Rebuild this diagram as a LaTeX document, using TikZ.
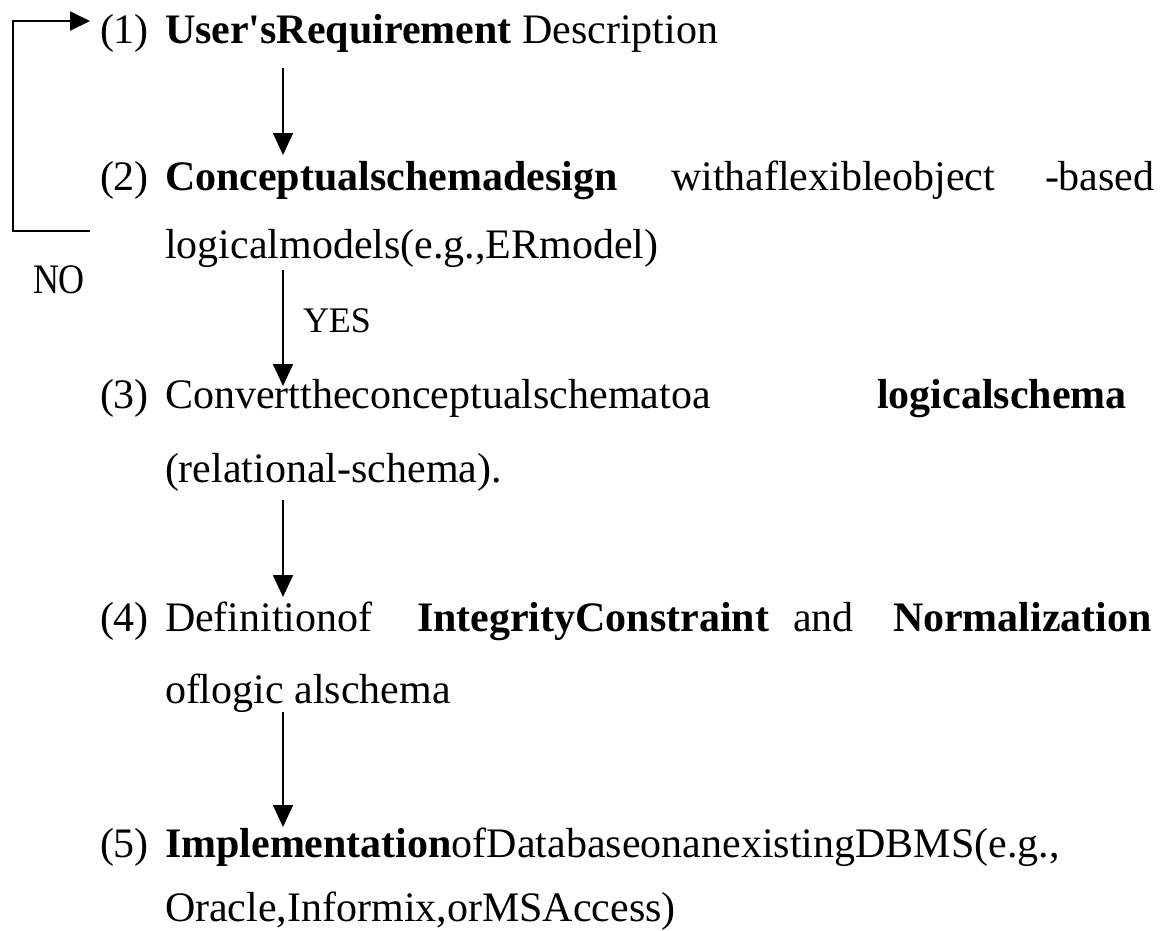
\documentclass[tikz,border=0pt]{standalone}
\usepackage{fontspec}
\setmainfont{Liberation Serif}
\usetikzlibrary{arrows.meta}

\tikzset{
  txt/.style={anchor=base west, inner sep=0pt, outer sep=0pt,
              font=\fontsize{42}{50}\selectfont},
  txtr/.style={txt, anchor=base east},
  lbl/.style={anchor=base west, inner sep=0pt, outer sep=0pt,
              font=\fontsize{36}{42}\selectfont},
  flow/.style={line width=1.7pt, -{Triangle[length=22pt,width=20pt]}},
  loopline/.style={line width=2pt, -{Triangle[length=20pt,width=19pt]}}
}

\begin{document}
\begin{tikzpicture}[x=1pt, y=-1pt]
  \useasboundingbox (0,0) rectangle (1162,930);

  % step 1
  \node[txt] (n1) at (100,43) {(1)};
  \node[txt] (s1) at (165,43) {\textbf{User\textquotesingle sRequirement} Description};

  % step 2
  \node[txt] (n2) at (100,190) {(2)};
  \node[txt] (s2a) at (165,190) {\textbf{Conceptualschemadesign}};
  \node[txt] (s2b) at (671,190) {withaflexibleobject};
  \node[txt] (s2c) at (1045,190) {-based};
  \node[txt] (s2d) at (165,258) {logicalmodels(e.g.,ERmodel)};

  % step 3
  \node[txt] (n3) at (100,408) {(3)};
  \node[txt] (s3a) at (165,408) {Converttheconceptualschematoa};
  \node[txt] (s3b) at (877,408) {\textbf{logicalschema}};
  \node[txt] (s3c) at (165,482) {(relational-schema).};

  % step 4
  \node[txt] (n4) at (100,631) {(4)};
  \node[txt] (s4a) at (165,631) {Definitionof};
  \node[txt] (s4b) at (417,631) {\textbf{IntegrityConstraint}};
  \node[txt] (s4c) at (793,631) {and};
  \node[txt] (s4d) at (893,631) {\textbf{Normalization}};
  \node[txt] (s4e) at (165,703) {oflogic alschema};

  % step 5
  \node[txt] (n5) at (100,857) {(5)};
  \node[txt] (s5a) at (165,857) {\textbf{Implementation}ofDatabaseonanexistingDBMS(e.g.,};
  \node[txt] (s5b) at (165,921) {Oracle,Informix,orMSAccess)};

  % decision labels
  \node[txt] (no) at (33,293) {\resizebox{52pt}{\height}{NO}};
  \node[lbl] (yes) at (303,332) {YES};

  % arrow end points
  \coordinate (a1s) at (283,68);
  \coordinate (a1e) at (283,155);
  \coordinate (a2s) at (283,270);
  \coordinate (a2e) at (283,386);
  \coordinate (a3s) at (283,500);
  \coordinate (a3e) at (283,597);
  \coordinate (a4s) at (283,712);
  \coordinate (a4e) at (283,827);

  \draw[flow] (a1s) -- (a1e);
  \draw[flow] (a2s) -- (a2e);
  \draw[flow] (a3s) -- (a3e);
  \draw[flow] (a4s) -- (a4e);

  % feedback loop back to step 1
  \coordinate (fb) at (90,231);
  \coordinate (fbtip) at (90,21);
  \draw[loopline] (fb) -- (13,231) -- (13,21) -- (fbtip);
\end{tikzpicture}
\end{document}
